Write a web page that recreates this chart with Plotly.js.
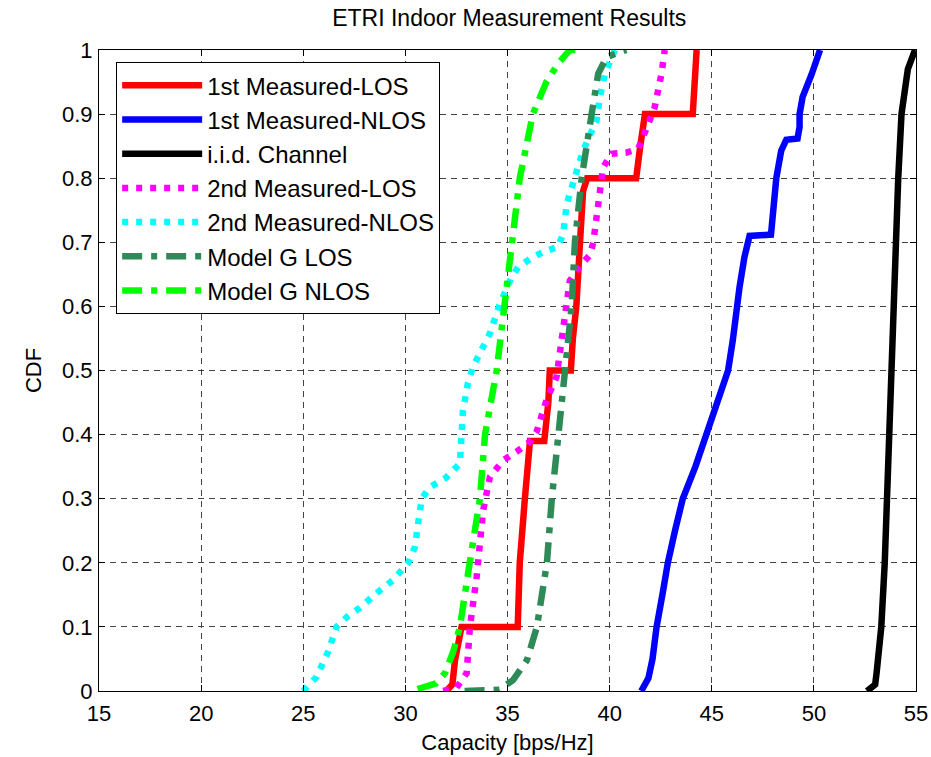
<!DOCTYPE html>
<html>
<head>
<meta charset="utf-8">
<script src="https://cdn.plot.ly/plotly-3.0.1.min.js"></script>
<style>html,body{margin:0;padding:0;background:#fff;}#chart{width:931px;height:757px;}</style>
</head>
<body>
<div id="chart"></div>
<script>
// Series names
const seriesNames = ["1st Measured-LOS","1st Measured-NLOS","i.i.d. Channel","2nd Measured-LOS","2nd Measured-NLOS","Model G LOS","Model G NLOS"];

// 1st Measured-LOS
const los1X = [32.0,32.3,32.43,32.57,32.75,35.5,35.6,35.85,36.0,36.1,36.8,37.0,37.07,38.1,38.2,38.37,38.55,38.7,38.9,41.3,41.5,41.73,44.07,44.2,44.26];
const los1Y = [0,0.01,0.048,0.078,0.1,0.1,0.2,0.3,0.36,0.39,0.39,0.45,0.5,0.5,0.55,0.6,0.7,0.78,0.8,0.8,0.85,0.9,0.9,0.95,1];

// 1st Measured-NLOS
const nlos1X = [41.55,41.9,42.1,42.3,42.6,42.85,43.2,43.58,44.2,44.75,45.23,45.5,45.8,46.03,46.2,46.36,46.6,46.85,47.9,48.02,48.16,48.4,48.65,49.2,49.3,49.3,49.45,49.9,50.3];
const nlos1Y = [0,0.02,0.05,0.1,0.153,0.2,0.25,0.3,0.35,0.4,0.45,0.47,0.5,0.547,0.6,0.63,0.677,0.71,0.712,0.75,0.8,0.843,0.86,0.862,0.88,0.9,0.927,0.963,1];

// i.i.d. Channel
const iidX = [52.6,53.0,53.07,53.15,53.3,53.47,53.6,53.72,53.8,53.91,54.0,54.13,54.29,54.45,54.6,54.95];
const iidY = [0,0.01,0.028,0.05,0.1,0.2,0.3,0.4,0.5,0.6,0.7,0.8,0.9,0.94,0.97,1];

// 2nd Measured-LOS
const los2X = [31.85,32.5,33.0,33.06,33.16,33.49,33.81,34.14,34.79,35.44,36.1,36.42,36.67,36.91,37.4,37.57,37.73,37.9,38.05,38.6,39.03,39.2,39.36,39.52,39.68,40.1,40.83,41.4,41.65,41.9,42.2,42.38,42.54,42.7];
const los2Y = [0,0.005,0.028,0.075,0.1,0.178,0.282,0.334,0.36,0.373,0.389,0.404,0.428,0.454,0.49,0.527,0.563,0.605,0.64,0.665,0.68,0.7,0.745,0.78,0.817,0.838,0.84,0.846,0.864,0.885,0.91,0.937,0.963,1];

// 2nd Measured-NLOS
const nlos2X = [25.0,25.65,26.2,26.63,27.12,27.78,28.6,29.4,30.14,30.47,30.6,30.8,31.2,32.0,32.67,32.75,32.82,33.06,33.3,34.14,34.63,35.2,35.52,36.1,36.75,37.48,37.73,37.9,38.38,38.7,39.36,39.52,39.77,40.26];
const nlos2Y = [0,0.022,0.06,0.1,0.115,0.13,0.153,0.173,0.2,0.225,0.256,0.3,0.318,0.333,0.355,0.387,0.438,0.48,0.505,0.558,0.604,0.646,0.661,0.674,0.685,0.693,0.714,0.76,0.807,0.843,0.89,0.926,0.963,1];

// Model G LOS
const gLosX = [32.9,34.6,35.27,35.95,36.44,36.68,36.93,37.17,37.47,37.8,38.14,38.3,38.63,39.12,39.44,39.85,40.82];
const gLosY = [0,0.002,0.017,0.048,0.1,0.15,0.2,0.3,0.4,0.5,0.6,0.7,0.8,0.9,0.963,0.989,1];

// Model G NLOS
const gNlosX = [30.6,31.5,31.94,32.33,32.67,32.9,33.15,33.65,33.9,34.47,34.87,35.27,35.6,36.24,36.9,37.5,38.05,38.5];
const gNlosY = [0.003,0.012,0.028,0.06,0.1,0.153,0.2,0.3,0.4,0.5,0.6,0.7,0.8,0.9,0.95,0.98,1,1];

const xTicks = [15,20,25,30,35,40,45,50,55];
const yTicks = [0,0.1,0.2,0.3,0.4,0.5,0.6,0.7,0.8,0.9,1];
const yTickText = ["0","0.1","0.2","0.3","0.4","0.5","0.6","0.7","0.8","0.9","1"];

const styles = [
  {color:"#ff0000", dash:"solid"},
  {color:"#0000ff", dash:"solid"},
  {color:"#000000", dash:"solid"},
  {color:"#ff00ff", dash:"6px,8px"},
  {color:"#00ffff", dash:"6px,8px"},
  {color:"#2e8b57", dash:"20px,9px,6px,9px"},
  {color:"#00ff00", dash:"20px,9px,6px,9px"}
];
const xs = [los1X,nlos1X,iidX,los2X,nlos2X,gLosX,gNlosX];
const ys = [los1Y,nlos1Y,iidY,los2Y,nlos2Y,gLosY,gNlosY];

const traces = seriesNames.map((n,i)=>({
  x: xs[i], y: ys[i], name: n, type: "scatter", mode: "lines",
  legendgroup: "g"+i,
  line: {color: styles[i].color, width: 6.5, dash: styles[i].dash}
}));

const FONT = "Liberation Sans, Arial, sans-serif";
const axisCommon = {
  showline: true, linecolor: "#000", linewidth: 1, mirror: "ticks",
  ticks: "inside", ticklen: 6, tickcolor: "#000",
  showgrid: true, gridcolor: "#444", griddash: "6px,5px", gridwidth: 1,
  zeroline: false,
  tickfont: {family: FONT, size: 22, color: "#000"}
};

const layout = {
  width: 931, height: 757,
  paper_bgcolor: "#fff", plot_bgcolor: "#fff",
  margin: {l: 99, r: 15, t: 50, b: 66},
  font: {family: FONT, color: "#000"},
  title: {text: "ETRI Indoor Measurement Results", font: {family: FONT, size: 23, color: "#000"},
    x: 0.547, xanchor: "center", y: 0.976, yref: "container", yanchor: "middle"},
  xaxis: Object.assign({}, axisCommon, {
    range: [15, 55], tickvals: xTicks, ticklabelstandoff: 3,
    title: {text: "Capacity [bps/Hz]", font: {family: FONT, size: 22}, standoff: 9}
  }),
  yaxis: Object.assign({}, axisCommon, {
    range: [0, 1], tickvals: yTicks, ticktext: yTickText, ticklabelstandoff: 1,
    title: {text: "CDF", font: {family: FONT, size: 22}, standoff: 14}
  }),
  showlegend: true,
  legend: {
    x: 0.021, y: 0.981, xanchor: "left", yanchor: "top",
    bgcolor: "#fff", bordercolor: "#000", borderwidth: 1,
    font: {family: FONT, size: 24, color: "#000"},
    itemwidth: 80, tracegroupgap: 3, traceorder: "normal"
  }
};

Plotly.newPlot("chart", traces, layout, {staticPlot: true, displayModeBar: false});
</script>
</body>
</html>
